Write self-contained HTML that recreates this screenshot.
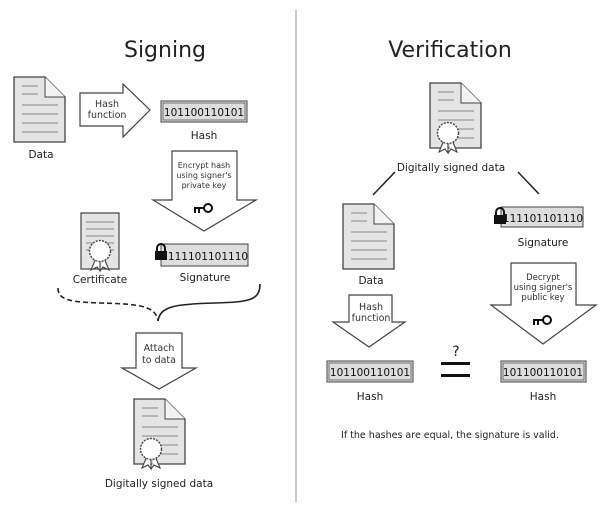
<!DOCTYPE html>
<html><head><meta charset="utf-8"><style>
html,body{margin:0;padding:0;background:#fff;}
svg{display:block;font-family:"DejaVu Sans","Liberation Sans",sans-serif;}
</style></head><body>
<svg width="600" height="523" viewBox="0 0 600 523" xmlns="http://www.w3.org/2000/svg">
<defs>
<g id="doc">
<path d="M0,0 H31 L51,20 V65 H0 Z" fill="#e4e4e4" stroke="#444" stroke-width="1.3"/>
<path d="M31,0 V20 H51" fill="#f2f2f2" stroke="#444" stroke-width="1"/>
<g stroke="#888" stroke-width="1">
<line x1="8" y1="9" x2="24" y2="9"/><line x1="8" y1="17" x2="24" y2="17"/>
<line x1="8" y1="28" x2="44" y2="28"/><line x1="8" y1="37" x2="44" y2="37"/>
<line x1="8" y1="46" x2="44" y2="46"/><line x1="8" y1="55" x2="44" y2="55"/>
</g>
</g>
<g id="seal">
<path d="M-4,7 L-9,19 L-3,16 L0,20 L0,9 M4,7 L9,19 L3,16 L0,20" fill="#fff" stroke="#444" stroke-width="1.1"/>
<circle r="10.5" fill="#fff" stroke="#444" stroke-width="1.4" stroke-dasharray="2 1.2"/>
<circle r="8" fill="#fff" stroke="none"/>
</g>
<g id="key"><circle cx="5" cy="0" r="4" fill="none" stroke="#111" stroke-width="2"/><path d="M-9,0 H1 M-8,0 V5 M-4,0 V5" stroke="#111" stroke-width="2" fill="none"/></g>
<g id="lock"><path d="M2,6 V3 A4,4 0 0 1 10,3 V6" fill="none" stroke="#111" stroke-width="2"/><rect x="0" y="6" width="12" height="9" fill="#111"/></g>
</defs>

<line x1="296" y1="10" x2="296" y2="502" stroke="#999" stroke-width="1"/>

<g text-anchor="middle" fill="#222">
<text x="165" y="57" font-size="22">Signing</text>
<text x="450" y="57" font-size="22">Verification</text>
</g>

<!-- Signing -->
<use href="#doc" x="14" y="77"/>
<text x="41" y="158" font-size="10.5" text-anchor="middle" fill="#222">Data</text>
<path d="M80,93 H123 V84 L150,110 L123,137 V126 H80 Z" fill="#fff" stroke="#444" stroke-width="1.2"/>
<text x="107" y="107" font-size="9.5" text-anchor="middle" fill="#333">Hash</text>
<text x="107" y="118" font-size="9.5" text-anchor="middle" fill="#333">function</text>
<rect x="161" y="101" width="86" height="21" fill="#ddd" stroke="#444"/>
<rect x="163" y="103" width="82" height="17" fill="none" stroke="#444" stroke-width="0.7"/>
<text x="204" y="116" font-size="10.5" text-anchor="middle" fill="#111">101100110101</text>
<text x="204" y="139" font-size="10.5" text-anchor="middle" fill="#222">Hash</text>

<path d="M172,151 H237 V200 H256 L204,231 L153,200 H172 Z" fill="#fff" stroke="#444" stroke-width="1.2"/>
<text x="204" y="168" font-size="8" text-anchor="middle" fill="#333">Encrypt hash</text>
<text x="204" y="178" font-size="8" text-anchor="middle" fill="#333">using signer's</text>
<text x="204" y="188" font-size="8" text-anchor="middle" fill="#333">private key</text>
<use href="#key" x="203" y="208"/>

<rect x="81" y="213" width="38" height="56" fill="#e4e4e4" stroke="#444" stroke-width="1.2"/>
<g stroke="#888"><line x1="86" y1="222" x2="114" y2="222"/><line x1="86" y1="229" x2="114" y2="229"/><line x1="86" y1="236" x2="114" y2="236"/><line x1="86" y1="243" x2="114" y2="243"/><line x1="86" y1="250" x2="114" y2="250"/></g>
<use href="#seal" x="100" y="251"/>
<text x="100" y="283" font-size="10.5" text-anchor="middle" fill="#222">Certificate</text>

<rect x="161" y="244" width="87" height="22" fill="#ddd" stroke="#444"/>
<text x="208" y="260" font-size="10.5" text-anchor="middle" fill="#111">111101101110</text>
<use href="#lock" x="155" y="245"/>
<text x="205" y="281" font-size="10.5" text-anchor="middle" fill="#222">Signature</text>

<path d="M58,288 C58,300 70,302 100,303 C140,304 156,306 158,321" fill="none" stroke="#222" stroke-width="1.6" stroke-dasharray="5 3"/>
<path d="M158,321 C160,306 176,304 215,303 C250,302 260,300 260,284" fill="none" stroke="#222" stroke-width="1.6"/>

<path d="M136,333 H182 V368 H196 L159,389 L122,368 H136 Z" fill="#fff" stroke="#444" stroke-width="1.2"/>
<text x="159" y="351" font-size="9.5" text-anchor="middle" fill="#333">Attach</text>
<text x="159" y="363" font-size="9.5" text-anchor="middle" fill="#333">to data</text>

<use href="#doc" x="134" y="399"/>
<use href="#seal" x="151" y="449"/>
<text x="159" y="487" font-size="10.5" text-anchor="middle" fill="#222">Digitally signed data</text>

<!-- Verification -->
<use href="#doc" x="430" y="83"/>
<use href="#seal" x="448" y="133"/>
<text x="451" y="171" font-size="10.5" text-anchor="middle" fill="#222">Digitally signed data</text>
<line x1="373" y1="195" x2="395" y2="172" stroke="#222" stroke-width="1.5"/>
<line x1="518" y1="172" x2="539" y2="194" stroke="#222" stroke-width="1.5"/>

<use href="#doc" x="343" y="204"/>
<text x="371" y="284" font-size="10.5" text-anchor="middle" fill="#222">Data</text>

<rect x="501" y="207" width="82" height="20" fill="#ddd" stroke="#444"/>
<text x="543" y="222" font-size="10.5" text-anchor="middle" fill="#111">111101101110</text>
<use href="#lock" x="494" y="209"/>
<text x="543" y="246" font-size="10.5" text-anchor="middle" fill="#222">Signature</text>

<path d="M349,295 H392 V322 H405 L369,347 L333,322 H349 Z" fill="#fff" stroke="#444" stroke-width="1.2"/>
<text x="371" y="310" font-size="9.5" text-anchor="middle" fill="#333">Hash</text>
<text x="371" y="321" font-size="9.5" text-anchor="middle" fill="#333">function</text>

<path d="M511,263 H576 V305 H596 L543,344 L491,305 H511 Z" fill="#fff" stroke="#444" stroke-width="1.2"/>
<text x="543" y="280" font-size="8.5" text-anchor="middle" fill="#333">Decrypt</text>
<text x="543" y="290" font-size="8.5" text-anchor="middle" fill="#333">using signer's</text>
<text x="543" y="300" font-size="8.5" text-anchor="middle" fill="#333">public key</text>
<use href="#key" x="542" y="320"/>

<rect x="327" y="361" width="86" height="21" fill="#ddd" stroke="#444"/>
<rect x="329" y="363" width="82" height="17" fill="none" stroke="#444" stroke-width="0.7"/>
<text x="370" y="376" font-size="10.5" text-anchor="middle" fill="#111">101100110101</text>
<text x="370" y="400" font-size="10.5" text-anchor="middle" fill="#222">Hash</text>
<rect x="501" y="361" width="85" height="21" fill="#ddd" stroke="#444"/>
<rect x="503" y="363" width="81" height="17" fill="none" stroke="#444" stroke-width="0.7"/>
<text x="543" y="376" font-size="10.5" text-anchor="middle" fill="#111">101100110101</text>
<text x="543" y="400" font-size="10.5" text-anchor="middle" fill="#222">Hash</text>

<text x="456" y="356" font-size="14" text-anchor="middle" fill="#222">?</text>
<rect x="441" y="362" width="29" height="3" fill="#111"/>
<rect x="441" y="374" width="29" height="3" fill="#111"/>

<text x="450" y="438" font-size="9.5" text-anchor="middle" fill="#222">If the hashes are equal, the signature is valid.</text>
</svg>
</body></html>
